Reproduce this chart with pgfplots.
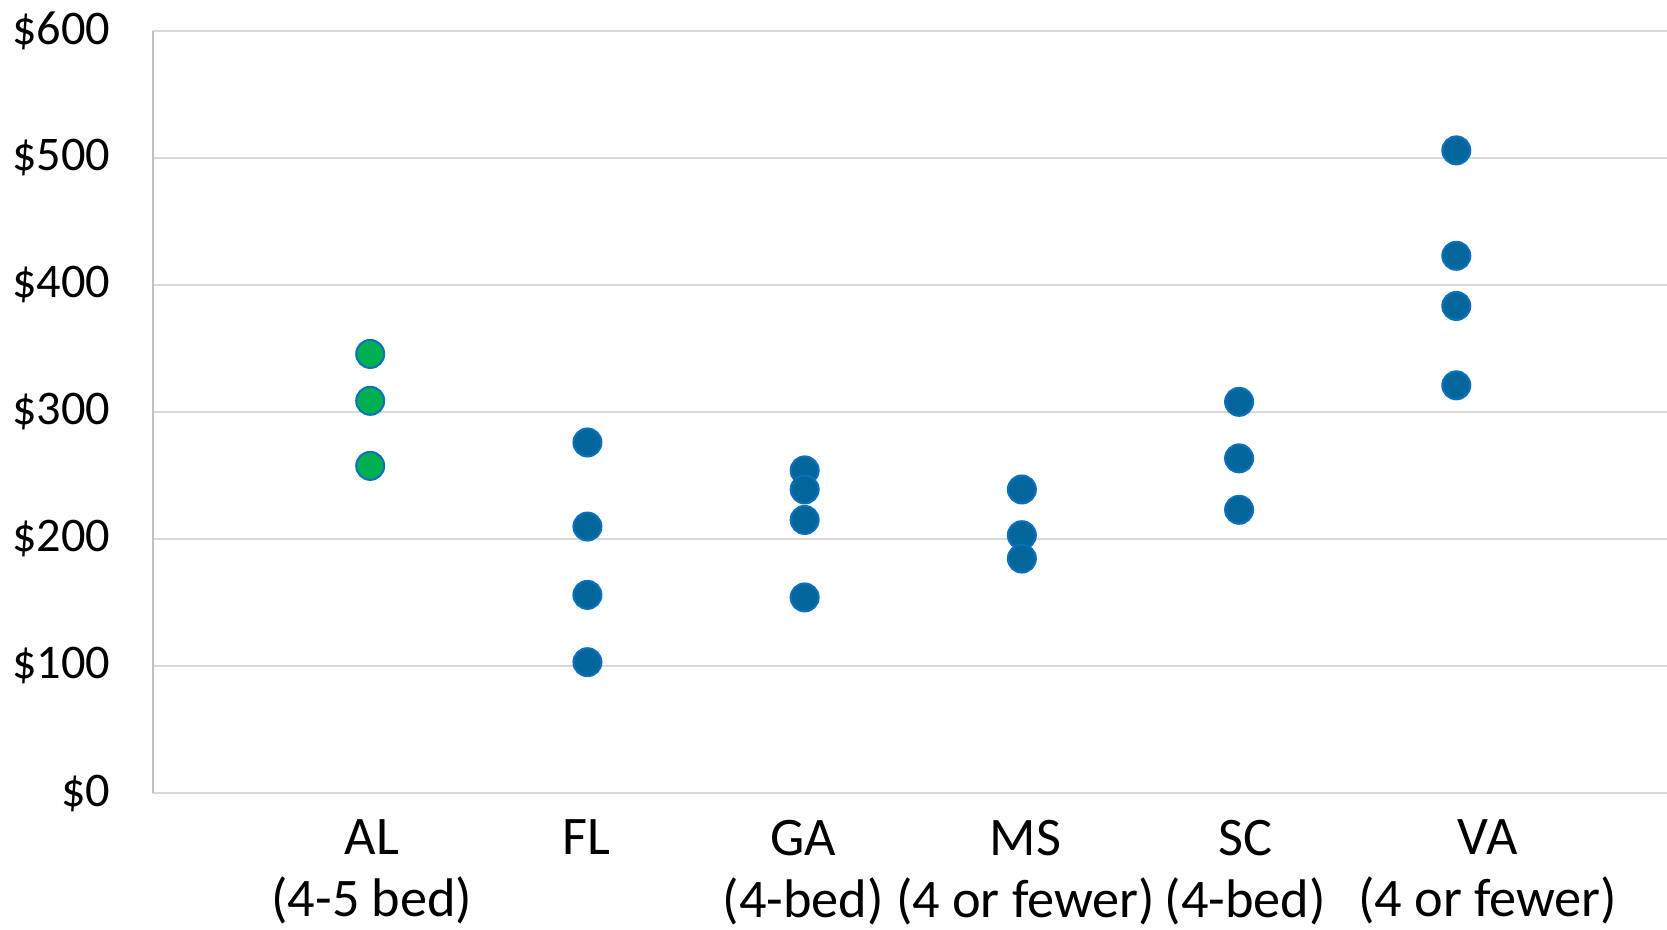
\documentclass[border=0pt]{standalone}
\usepackage{pgfplots}
\pgfplotsset{compat=1.18}
\usepackage{fontspec}
\setmainfont{Carlito}
\definecolor{dotblue}{HTML}{02669A}
\definecolor{edgeblue}{HTML}{0B70BF}
\definecolor{dotgreen}{HTML}{00B050}
\definecolor{gridgray}{HTML}{D9D9D9}
\definecolor{axgray}{HTML}{BFBFBF}
\begin{document}
\begin{tikzpicture}
\useasboundingbox (-45.9pt,-40.8pt) rectangle (454.2pt,237.9pt);
\begin{axis}[
  scale only axis, width=454.2pt, height=228.6pt,
  xmin=0, xmax=6.97, ymin=0, ymax=600,
  axis lines*=left,
  axis line style={axgray, line width=0.6pt},
  x axis line style={gridgray, line width=0.6pt},
  ymajorgrids, grid style={gridgray, line width=0.6pt},
  ytick={0,100,200,300,400,500,600},
  yticklabels={\$0,\$100,\$200,\$300,\$400,\$500,\$600},
  yticklabel style={font=\fontsize{14.5}{16}\selectfont, xshift=-9.3pt},
  xtick={1.008,1.996,2.994,4.017,5.029,6.145},
  xticklabels={{AL\\(4-5 bed)},{FL\\\strut},{GA\\(4-bed)},{MS\\(4 or fewer)},{SC\\(4-bed)},{VA\\(4 or fewer)}},
  xticklabel style={font=\fontsize{16.3}{18.6}\selectfont, align=center, yshift=-4.5pt},
  major tick length=0pt,
  clip=false,
]
\addplot[only marks, mark=*, mark size=4.2pt, mark options={fill=dotgreen, draw=edgeblue, line width=0.6pt}]
  coordinates {(1,345.7) (1,308.8) (1,257.6)};
\addplot[only marks, mark=*, mark size=4.2pt, mark options={fill=dotblue, draw=edgeblue, line width=0.6pt}]
  coordinates {
  (2,276) (2,209.8) (2,156) (2,103)
  (3,254) (3,239) (3,215) (3,154)
  (4,239) (4,203) (4,184.6)
  (5,308) (5,263.5) (5,223)
  (6,506) (6,423) (6,383.5) (6,321)
  };
\end{axis}
\end{tikzpicture}
\end{document}
